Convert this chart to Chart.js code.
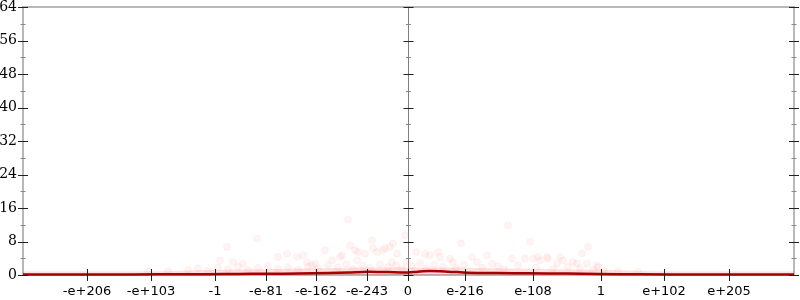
<!DOCTYPE html>
<html>
<head>
<meta charset="utf-8">
<script src="https://cdn.jsdelivr.net/npm/chart.js@4/dist/chart.umd.min.js"></script>
<style>
  html, body { margin: 0; background: #fff; }
  #wrap { width: 800px; height: 300px; }
</style>
</head>
<body>
<div id="wrap"><canvas id="chart"></canvas></div>
<script>
// x axis is an ordinal flonum axis: positions of the labelled ticks
const xTicks = [-321, -257, -193, -142, -92, -41, 0, 57, 125, 193, 256, 321];
const xTickLabels = ['-e+206', '-e+103', '-1', '-e-81', '-e-162', '-e-243', '0', 'e-216', 'e-108', '1', 'e+102', 'e+205'];
const yTicks = [0, 8, 16, 24, 32, 40, 48, 56, 64];

// mean line
const meanX = [-385, -300, -250, -200, -170, -140, -110, -80, -60, -40, -20, 0, 10, 22, 40, 60, 90, 120, 160, 190, 230, 300, 386];
const meanY = [0.1, 0.1, 0.15, 0.2, 0.25, 0.3, 0.35, 0.45, 0.6, 0.8, 0.7, 0.6, 0.8, 0.95, 0.8, 0.55, 0.45, 0.4, 0.35, 0.25, 0.15, 0.1, 0.1];

// pale band of dense samples near zero
const bandX = [-385, -250, -200, -120, -40, 0, 40, 120, 200, 250, 386];
const bandY = [0.9, 0.9, 1.2, 1.5, 1.8, 1.8, 1.8, 1.5, 1.2, 0.9, 0.9];

// individual samples
const dotX = [-181, -151, -188, -175, -165, -130, -121, -111, -101, -83, -96, -76, -68, -60, -51, -53, -43, -36, -35, -25, -18, -11, -16, -3, -58, -66, -50, -31, -23, -105, -93, -15,
  8, 17, 22, 30, 32, 42, 45, 53, 64, 69, 79, 84, 100, 104, 122, 117, 125, 132, 139, 149, 155, 165, 174, 179, 189, 130, 140, 152, 169, 180, 190,
  -220, -210, -200, -190, -180, -170, -160, -150, -140, -130, -120, -110, -100, -90, -80, -70, -62, -55, -45, -38, -28, -20, -12, -6, -2,
  4, 12, 18, 26, 35, 48, 56, 74, 90, 96, 110, 128, 145, 160, 172, 185, 196, 210, -240, -260, 230];
const dotY = [6.7, 8.7, 3.5, 3.1, 2.7, 4.3, 5.1, 4.3, 3.1, 5.9, 2.3, 3.5, 4.3, 13.2, 3.5, 5.9, 5.1, 8.3, 6.4, 5.9, 6.7, 5.1, 3.1, 9.5, 7.1, 4.7, 5.5, 5.5, 6.4, 4.7, 2.7, 7.5,
  5.5, 5.1, 4.7, 5.5, 4.3, 3.9, 3.1, 7.6, 4.3, 3.1, 4.7, 2.7, 11.9, 3.9, 7.9, 3.9, 3.9, 3.5, 4.3, 2.7, 3.5, 3.1, 5.2, 2.7, 2.3, 4.3, 3.9, 4.3, 2.7, 6.7, 1.9,
  1.2, 1.6, 1.0, 1.8, 1.4, 2.0, 1.2, 1.7, 2.2, 1.5, 1.9, 1.3, 2.0, 1.6, 2.4, 1.8, 2.6, 1.4, 2.2, 1.7, 2.5, 1.9, 2.3, 1.5, 3.0,
  2.2, 2.8, 1.6, 2.4, 2.0, 1.7, 2.5, 1.8, 2.1, 1.4, 2.3, 1.8, 1.5, 2.0, 1.6, 1.2, 1.0, 0.9, 0.9, 0.8, 0.8];

const toPts = (xs, ys) => xs.map((x, i) => ({ x: x, y: ys[i] }));

// axes frame and tick marks, drawn from the scales
const framePlugin = {
  id: 'frame',
  beforeDatasetsDraw(chart) {
    const { ctx, chartArea: a, scales } = chart;
    const cx = scales.x.getPixelForValue(0);
    ctx.save();
    ctx.strokeStyle = '#b8b8b8';
    ctx.lineWidth = 2;
    ctx.beginPath();
    ctx.moveTo(a.left, a.bottom); ctx.lineTo(a.left, a.top);
    ctx.lineTo(a.right, a.top); ctx.lineTo(a.right, a.bottom);
    ctx.lineTo(a.left, a.bottom);
    ctx.stroke();
    ctx.strokeStyle = '#808080';
    ctx.lineWidth = 1;
    ctx.beginPath();
    ctx.moveTo(Math.round(cx) + 0.5, a.top); ctx.lineTo(Math.round(cx) + 0.5, a.bottom);
    ctx.stroke();
    ctx.restore();
  },
  afterDatasetsDraw(chart) {
    const { ctx, chartArea: a, scales } = chart;
    const cx = Math.round(scales.x.getPixelForValue(0)) + 0.5;
    ctx.save();
    ctx.lineWidth = 1;
    for (let v = 0; v <= 64; v += 4) {
      const y = Math.round(scales.y.getPixelForValue(v)) + 0.5;
      const major = v % 8 === 0;
      const h = major ? 5 : 2.5;
      ctx.strokeStyle = major ? '#202020' : '#8a8a8a';
      ctx.beginPath();
      [a.left, cx, a.right].forEach(x => { ctx.moveTo(x - h, y); ctx.lineTo(x + h, y); });
      ctx.stroke();
    }
    ctx.strokeStyle = '#202020';
    ctx.beginPath();
    xTicks.forEach(v => {
      const x = Math.round(scales.x.getPixelForValue(v)) + 0.5;
      ctx.moveTo(x, a.bottom - 6); ctx.lineTo(x, a.bottom + 6);
    });
    ctx.stroke();
    ctx.restore();
  }
};

new Chart(document.getElementById('chart'), {
  type: 'scatter',
  data: {
    datasets: [
      {
        data: toPts(bandX, bandY),
        showLine: true,
        fill: 'origin',
        backgroundColor: 'rgba(255, 0, 0, 0.12)',
        borderWidth: 0,
        pointRadius: 0,
        tension: 0.3
      },
      {
        data: toPts(dotX, dotY),
        pointRadius: 3.5,
        backgroundColor: 'rgba(255, 40, 40, 0.05)',
        borderColor: 'rgba(255, 0, 0, 0.04)',
        borderWidth: 1
      },
      {
        data: toPts(meanX, meanY),
        showLine: true,
        borderColor: '#9a0000',
        borderWidth: 2.5,
        pointRadius: 0,
        tension: 0.3,
        clip: false
      }
    ]
  },
  options: {
    responsive: true,
    maintainAspectRatio: false,
    animation: false,
    layout: { padding: { top: 7 } },
    plugins: {
      legend: { display: false },
      tooltip: { enabled: false }
    },
    scales: {
      x: {
        type: 'linear',
        min: -385,
        max: 386,
        afterBuildTicks: s => { s.ticks = xTicks.map(v => ({ value: v })); },
        afterFit: s => { s.height = 25; s.paddingLeft = 0; s.paddingRight = 0; },
        grid: { display: false, drawTicks: false },
        border: { display: false },
        ticks: {
          autoSkip: false,
          maxRotation: 0,
          padding: 9,
          color: '#000',
          font: { family: "'DejaVu Sans', sans-serif", size: 13 },
          callback: (v, i) => xTickLabels[i]
        }
      },
      y: {
        min: 0,
        max: 64,
        afterBuildTicks: s => { s.ticks = yTicks.map(v => ({ value: v })); },
        afterFit: s => { s.width = 23; s.paddingTop = 0; s.paddingBottom = 0; },
        grid: { display: false, drawTicks: false },
        border: { display: false },
        ticks: {
          padding: 6,
          color: '#000',
          font: { family: "'DejaVu Serif', 'Liberation Serif', serif", size: 14 }
        }
      },
      y2: {
        position: 'right',
        min: 0,
        max: 64,
        afterFit: s => { s.width = 6; s.paddingTop = 0; s.paddingBottom = 0; },
        grid: { display: false, drawTicks: false },
        border: { display: false },
        ticks: { display: false }
      }
    }
  },
  plugins: [framePlugin]
});
</script>
</body>
</html>
